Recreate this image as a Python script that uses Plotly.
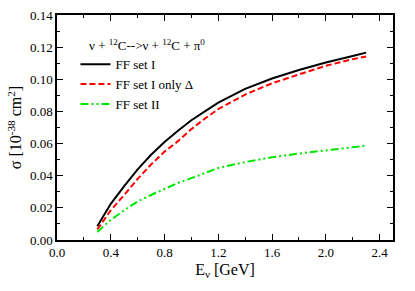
import plotly.graph_objects as go

energy = [0.3, 0.4, 0.5, 0.6, 0.7, 0.8, 0.9, 1.0, 1.1, 1.2, 1.4, 1.6, 1.8, 2.0, 2.2, 2.3]
ff_set_1 = [0.0085, 0.0225, 0.0335, 0.0440, 0.0530, 0.0610, 0.0680, 0.0745, 0.0800, 0.0855,
            0.0940, 0.1005, 0.1058, 0.1104, 0.1145, 0.1166]
ff_set_1_delta = [0.0065, 0.0185, 0.0280, 0.0380, 0.0470, 0.0550, 0.0615, 0.0690, 0.0755, 0.0815,
                  0.0905, 0.0975, 0.1030, 0.1084, 0.1125, 0.1142]
ff_set_2 = [0.0050, 0.0125, 0.0185, 0.0240, 0.0280, 0.0320, 0.0355, 0.0385, 0.0418, 0.0448,
            0.0485, 0.0515, 0.0538, 0.0556, 0.0575, 0.0587]
reaction_label = "ν + <sup>12</sup>C-->ν + <sup>12</sup>C + π<sup>0</sup>"

font_family = "Liberation Serif, Times New Roman, serif"

fig = go.Figure()
fig.add_trace(go.Scatter(x=energy, y=ff_set_1, mode="lines", name="FF set I",
                         line=dict(color="black", width=2)))
fig.add_trace(go.Scatter(x=energy, y=ff_set_1_delta, mode="lines", name="FF set I only Δ",
                         line=dict(color="#ff0000", width=2, dash="6px,3px")))
fig.add_trace(go.Scatter(x=energy, y=ff_set_2, mode="lines", name="FF set II",
                         line=dict(color="#00e600", width=2, dash="8px,3px,2px,3px,2px,3px")))

axis_common = dict(
    showline=True, linecolor="black", linewidth=1.5, mirror="allticks",
    ticks="inside", ticklen=6, tickwidth=1, tickcolor="black",
    showgrid=False, zeroline=False, automargin=False,
    tickfont=dict(family=font_family, size=13, color="black"),
)

fig.update_layout(
    width=415, height=291,
    margin=dict(l=57, r=22, t=15, b=51),
    paper_bgcolor="white", plot_bgcolor="white",
    font=dict(family=font_family, size=13, color="black"),
    xaxis=dict(range=[0, 2.5], dtick=0.4, tick0=0, tickformat=".1f",
               minor=dict(dtick=0.2, ticks="inside", ticklen=3, tickcolor="black"),
               title=dict(text="E<sub>ν</sub> [GeV]", font=dict(size=16), standoff=4),
               **axis_common),
    yaxis=dict(range=[0, 0.14], dtick=0.02, tick0=0, tickformat=".2f",
               minor=dict(dtick=0.01, ticks="inside", ticklen=3, tickcolor="black"),
               title=dict(text="σ [10<sup>-38</sup> cm<sup>2</sup>]", font=dict(size=16), standoff=4),
               **axis_common),
    legend=dict(x=0.055, y=0.848, xanchor="left", yanchor="top",
                bgcolor="rgba(0,0,0,0)", borderwidth=0,
                font=dict(family=font_family, size=13),
                tracegroupgap=0),
    showlegend=True,
    annotations=[dict(text=reaction_label, xref="paper", yref="paper",
                      x=0.089, y=0.867, xanchor="left", yanchor="middle",
                      showarrow=False, font=dict(family=font_family, size=13))],
)

fig.write_html("out.html", config={"displayModeBar": False},
               post_script="document.body.style.margin='0';")
